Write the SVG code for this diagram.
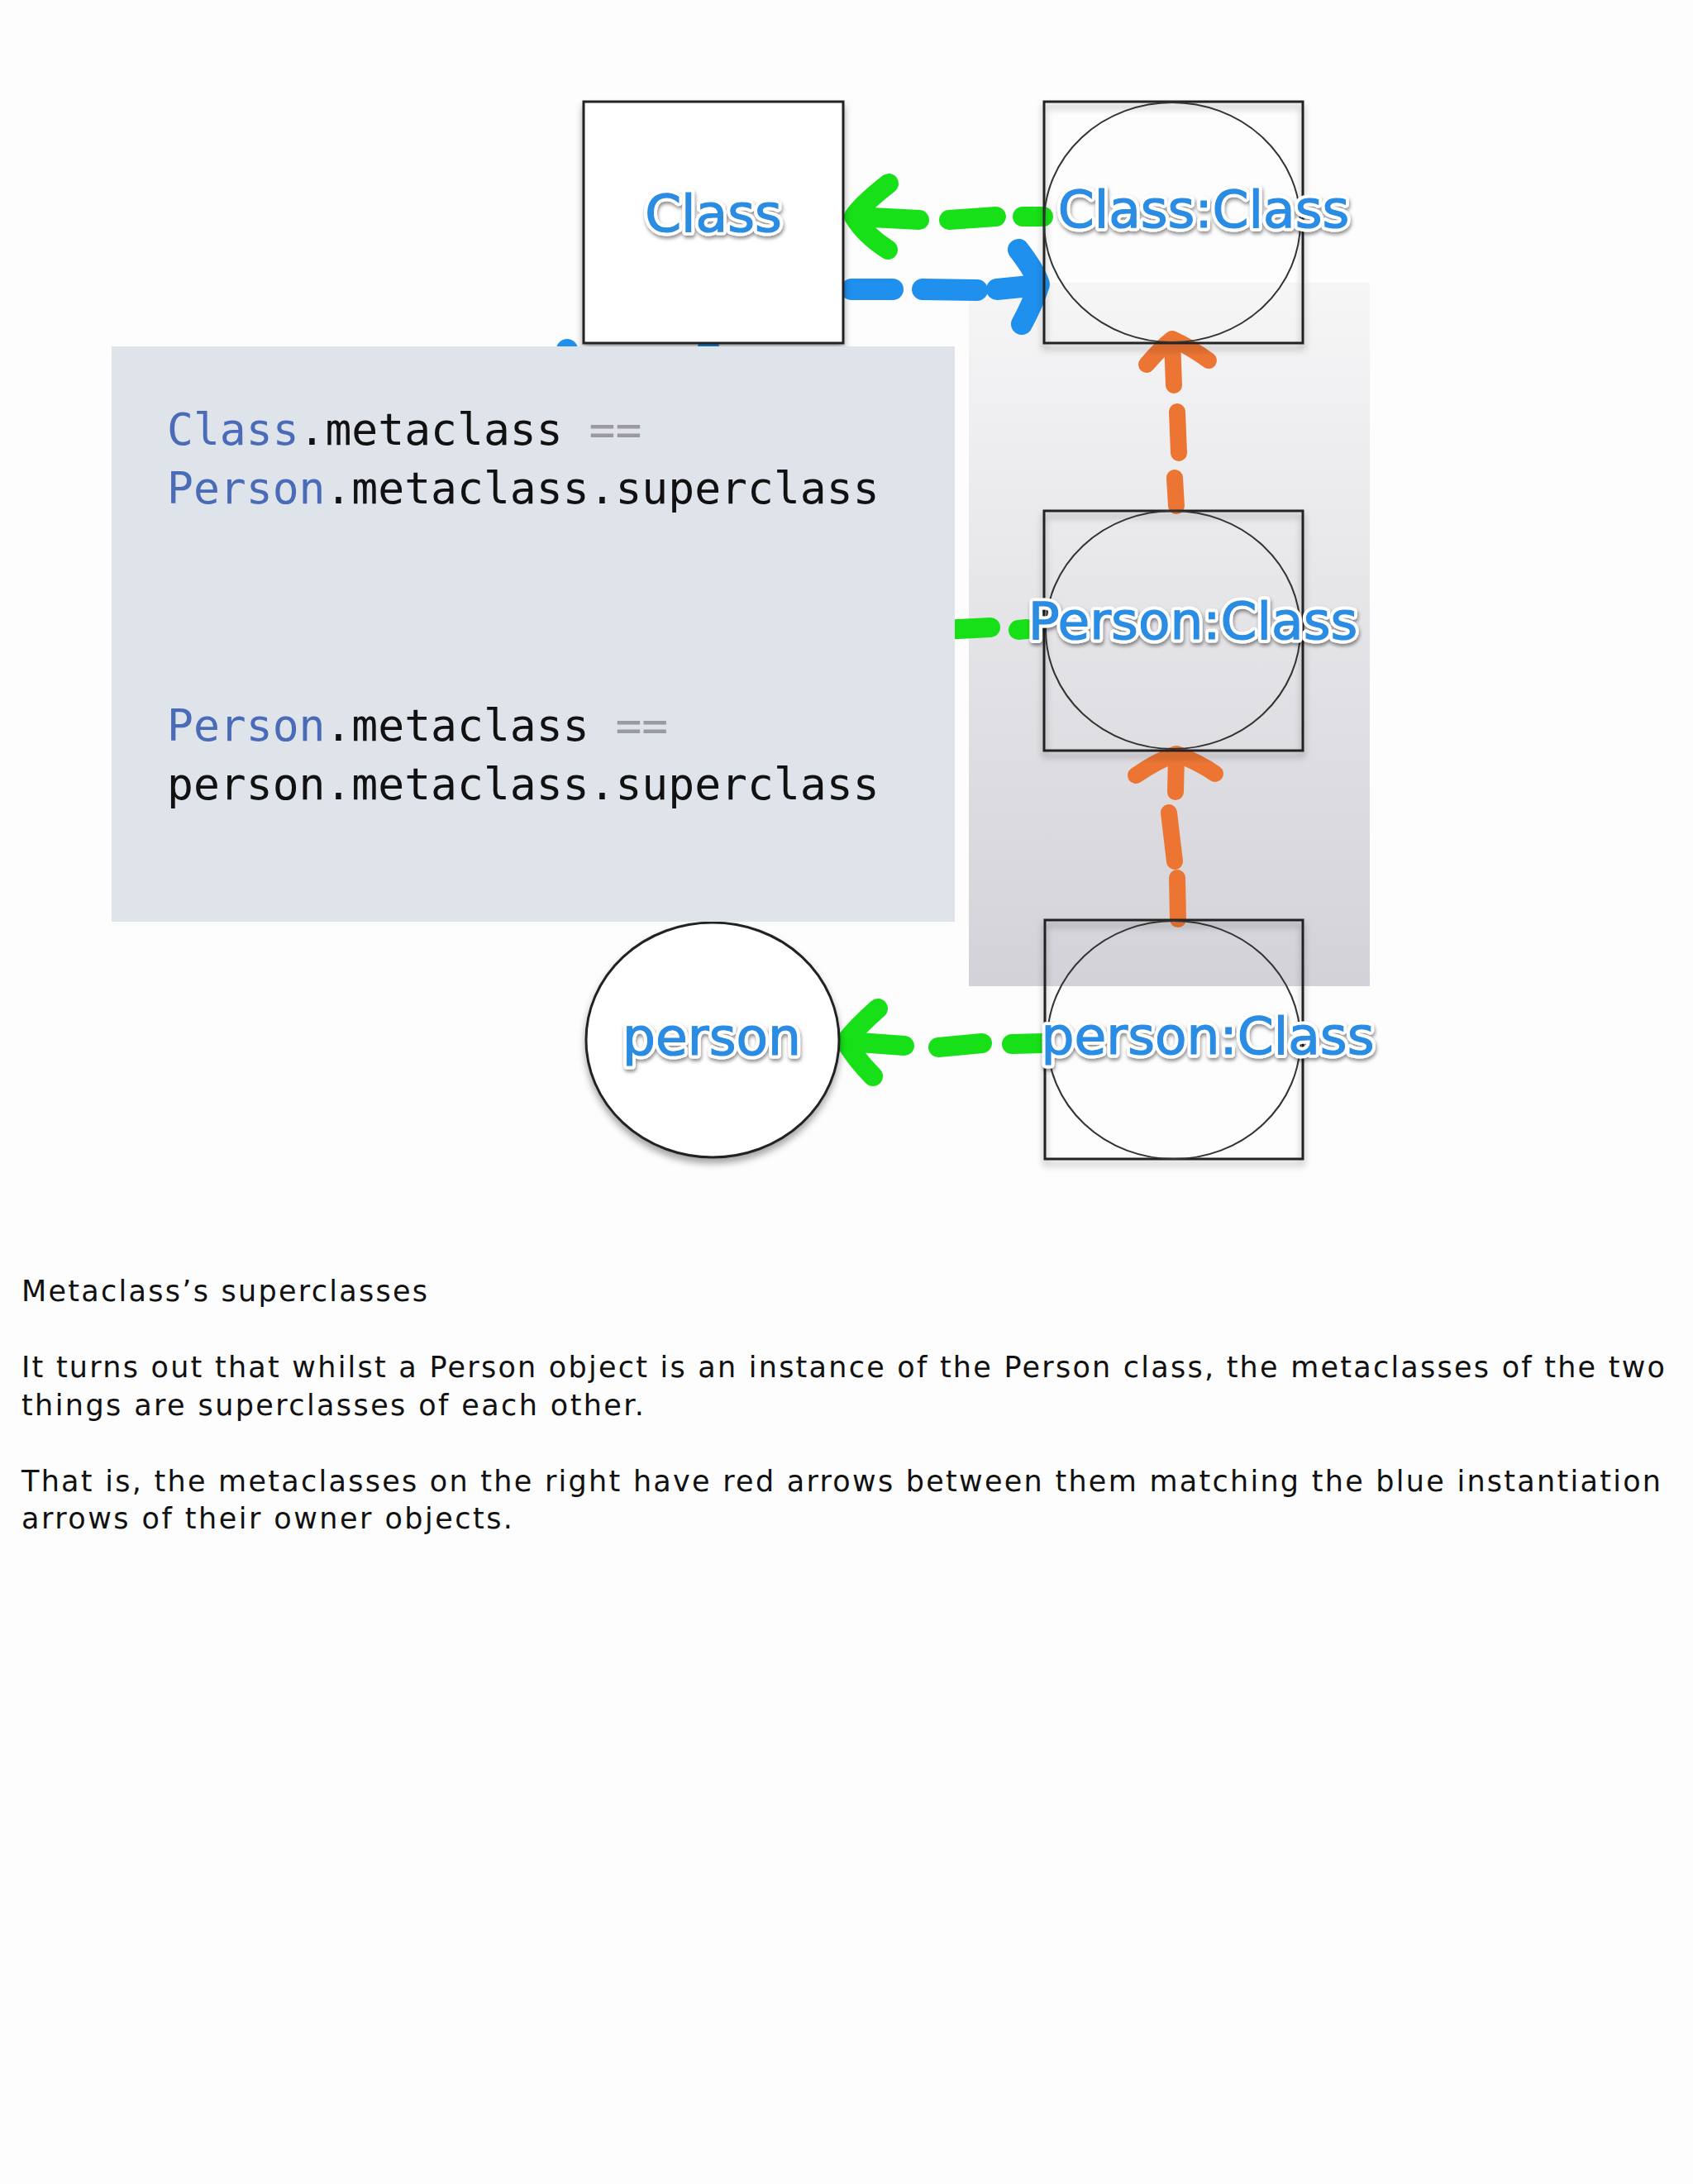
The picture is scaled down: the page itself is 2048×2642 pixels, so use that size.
<svg xmlns="http://www.w3.org/2000/svg" width="2048" height="2642" viewBox="0 0 2048 2642">
<defs>
<linearGradient id="grayPanel" x1="0" y1="0" x2="0" y2="1">
<stop offset="0" stop-color="#f6f6f7"/>
<stop offset="1" stop-color="#d2d2d8"/>
</linearGradient>
<filter id="boxShadow" x="-10%" y="-10%" width="120%" height="125%">
<feDropShadow dx="0" dy="6" stdDeviation="4" flood-color="#000" flood-opacity="0.35"/>
</filter>
<filter id="lblShadow" x="-10%" y="-20%" width="120%" height="150%">
<feDropShadow dx="1" dy="3" stdDeviation="2" flood-color="#000" flood-opacity="0.45"/>
</filter>
<style>
.box{fill:none;stroke:#222;stroke-width:3;filter:url(#boxShadow)}
.ell{fill:none;stroke:#333;stroke-width:2}
.lbl{font-family:"DejaVu Sans",sans-serif;font-size:63px;text-anchor:middle;fill:#2b8ce3;stroke:#fff;stroke-width:9;stroke-linejoin:round;paint-order:stroke;filter:url(#lblShadow)}
.lblf{font-family:"DejaVu Sans",sans-serif;font-size:63px;text-anchor:middle;fill:#2b8ce3;stroke:#2b8ce3;stroke-width:1.2}
.green{fill:none;stroke:#18e018;stroke-width:24;stroke-linecap:round;stroke-linejoin:round}
.blue{fill:none;stroke:#1f90ee;stroke-width:26;stroke-linecap:round;stroke-linejoin:round}
.orange{fill:none;stroke:#ec7534;stroke-width:20;stroke-linecap:round;stroke-linejoin:round}
.code{font-family:"DejaVu Sans Mono","Liberation Mono",monospace;font-size:53px;fill:#111}
.kw{fill:#4a6cb8}
.op{fill:#9a9aa0}
.body{font-family:"DejaVu Sans","Noto Sans",sans-serif;font-size:35px;fill:#111}
</style>
</defs>
<rect x="0" y="0" width="2048" height="2642" fill="#fdfdfe"/>
<rect id="metaPanel" x="1172" y="342" width="485" height="851" fill="url(#grayPanel)"/>

<g id="connectors">
<path class="blue" d="M857,470 L857,420"/>
<path class="blue" d="M686,440 L686,423" stroke-width="8"/>
<path class="blue" d="M862,1090 L862,1116" stroke-width="6" opacity="0.5"/>
<path class="green" d="M1140,762 L1198,759" stroke-width="27"/>
<path class="green" d="M1232,762 L1242,761" stroke-width="20"/>
<path class="green" d="M1075,222 Q1042,248 1033,262 Q1046,284 1074,302 M1035,262 L1112,266"/>
<path class="green" d="M1148,266 L1205,262"/>
<path class="green" d="M1237,262 L1262,262"/>
<path class="blue" d="M1030,350 L1080,350"/>
<path class="blue" d="M1116,350 L1182,351"/>
<path class="blue" d="M1206,350 L1256,345 M1232,302 Q1252,328 1257,344 Q1250,366 1236,392"/>
<path class="orange" d="M1387,441 Q1405,420 1418,410 Q1440,420 1462,436 M1418,412 L1420,466"/>
<path class="orange" d="M1424,498 L1426,548"/>
<path class="orange" d="M1421,578 L1423,612"/>
<path class="orange" d="M1374,938 Q1400,920 1423,912 Q1450,922 1470,936 M1423,914 L1422,958"/>
<path class="orange" d="M1414,983 L1421,1042"/>
<path class="orange" d="M1424,1062 L1425,1112"/>
<path class="green" d="M1062,1220 Q1035,1244 1023,1260 Q1036,1282 1056,1302 M1025,1260 L1094,1265"/>
<path class="green" d="M1135,1267 L1188,1262"/>
<path class="green" d="M1224,1263 L1262,1262"/>
</g>

<g id="node-class">
<rect x="706" y="123" width="314" height="292" fill="#fff" stroke="#222" stroke-width="3" filter="url(#boxShadow)"/>
<text class="lbl" x="863" y="280">Class</text>
<text class="lblf" x="863" y="280">Class</text>
</g>

<g id="node-classclass">
<rect class="box" x="1263" y="123" width="313" height="292"/>
<ellipse class="ell" cx="1418" cy="269" rx="155" ry="145"/>
<text class="lbl" x="1456" y="275">Class:Class</text>
<text class="lblf" x="1456" y="275">Class:Class</text>
</g>

<g id="node-personclass">
<rect class="box" x="1263" y="618" width="313" height="290"/>
<ellipse class="ell" cx="1419" cy="762" rx="154" ry="144"/>
<text class="lbl" x="1443" y="773">Person:Class</text>
<text class="lblf" x="1443" y="773">Person:Class</text>
</g>

<g id="node-personmeta">
<rect class="box" x="1264" y="1113" width="312" height="289"/>
<ellipse class="ell" cx="1420" cy="1258" rx="153" ry="144"/>
<text class="lbl" x="1461" y="1275">person:Class</text>
<text class="lblf" x="1461" y="1275">person:Class</text>
</g>

<g id="node-person">
<ellipse cx="862" cy="1258" rx="153" ry="142" fill="#fff" stroke="#222" stroke-width="3" filter="url(#boxShadow)"/>
<text class="lbl" x="861" y="1276">person</text>
<text class="lblf" x="861" y="1276">person</text>
</g>

<g id="code-panel">
<rect x="135" y="419" width="1020" height="696" fill="#dfe3ea"/>
<text class="code" x="202" y="538"><tspan class="kw">Class</tspan>.metaclass <tspan class="op">==</tspan></text>
<text class="code" x="202" y="609"><tspan class="kw">Person</tspan>.metaclass.superclass</text>
<text class="code" x="202" y="896"><tspan class="kw">Person</tspan>.metaclass <tspan class="op">==</tspan></text>
<text class="code" x="202" y="967">person.metaclass.superclass</text>
</g>

<g id="notes">
<text class="body" x="26" y="1574" textLength="491" lengthAdjust="spacing">Metaclass’s superclasses</text>
<text class="body" x="26" y="1666" textLength="1988" lengthAdjust="spacing">It turns out that whilst a Person object is an instance of the Person class, the metaclasses of the two</text>
<text class="body" x="26" y="1712" textLength="753" lengthAdjust="spacing">things are superclasses of each other.</text>
<text class="body" x="26" y="1804" textLength="1983" lengthAdjust="spacing">That is, the metaclasses on the right have red arrows between them matching the blue instantiation</text>
<text class="body" x="26" y="1849" textLength="594" lengthAdjust="spacing">arrows of their owner objects.</text>
</g>
</svg>
